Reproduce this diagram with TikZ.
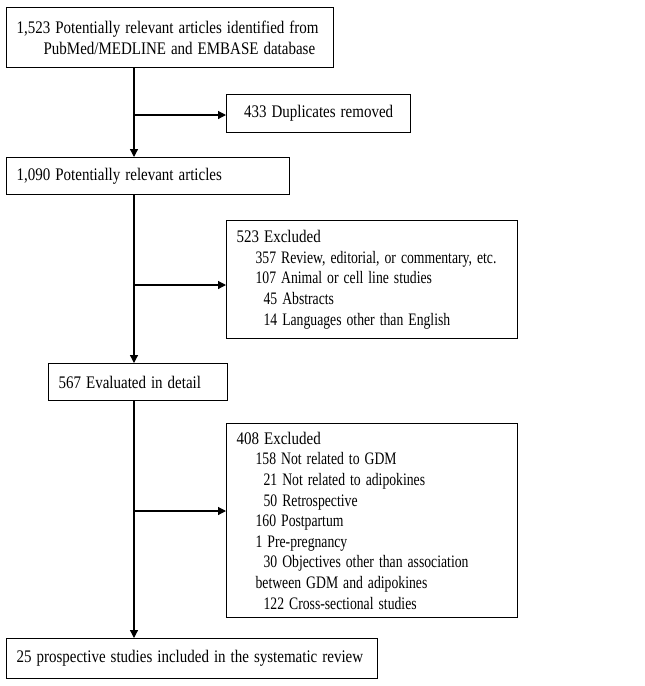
\documentclass[tikz,border=0pt]{standalone}
\usepackage{fontspec}
\usepackage{graphicx}
\setmainfont{Liberation Serif}
\usetikzlibrary{arrows.meta}
\newcommand{\ind}[2]{\mbox{\hspace*{#1pt}\scalebox{1}[1.18]{#2}}}
\newcommand{\subl}[2]{\mbox{\hspace*{#1pt}\scalebox{1}[1.28]{\fontsize{13.7}{20.6}\selectfont #2}}}
\begin{document}
\begin{tikzpicture}[x=1pt,y=-1pt,
  box/.style={draw, line width=1.2pt, anchor=north west, inner xsep=10pt, inner ysep=0pt, align=left,
    font=\fontsize{15}{20.6}\selectfont},
  arr/.style={line width=1.2pt, -{Triangle[length=8pt,width=8pt]}}]
\useasboundingbox[fill=white] (0,0) rectangle (645,686);
\node[box, minimum width=327pt, minimum height=60pt, text width=307pt] (b1) at (6,7)
  {\ind{0}{1,523 Potentially relevant articles identified from}\\\ind{27}{PubMed/MEDLINE and EMBASE database}};
\node[box, minimum width=184pt, minimum height=38pt, text width=164pt, align=center] (dup) at (226,94)
  {\ind{0}{433 Duplicates removed}};
\node[box, minimum width=283pt, minimum height=37pt, text width=263pt] (b2) at (6,157)
  {\ind{0}{1,090 Potentially relevant articles}};
\node[box, minimum width=291pt, minimum height=118pt, text width=271pt] (e1) at (226,220)
  {\ind{0}{523 Excluded}\\
   \subl{19}{357 Review, editorial, or commentary, etc.}\\
   \subl{19}{107 Animal or cell line studies}\\
   \subl{27}{45 Abstracts}\\
   \subl{27}{14 Languages other than English}};
\node[box, minimum width=179pt, minimum height=37pt, text width=159pt] (b3) at (48,363)
  {\ind{0}{567 Evaluated in detail}};
\node[box, minimum width=291pt, minimum height=194pt, text width=271pt] (e2) at (226,423)
  {\ind{0}{408 Excluded}\\
   \subl{19}{158 Not related to GDM}\\
   \subl{27}{21 Not related to adipokines}\\
   \subl{27}{50 Retrospective}\\
   \subl{19}{160 Postpartum}\\
   \subl{19}{1 Pre-pregnancy}\\
   \subl{27}{30 Objectives other than association}\\
   \subl{19}{between GDM and adipokines}\\
   \subl{27}{122 Cross-sectional studies}};
\node[box, minimum width=371pt, minimum height=40pt, text width=351pt] (b4) at (6,638)
  {\ind{0}{25 prospective studies included in the systematic review}};
\coordinate (spine) at (134,0);
\coordinate (j1) at (134,115);
\coordinate (j2) at (134,285);
\coordinate (j3) at (134,511);
\draw[arr] (b1.south -| spine) -- (b2.north -| spine);
\draw[arr] (b2.south -| spine) -- (b3.north -| spine);
\draw[arr] (b3.south -| spine) -- (b4.north -| spine);
\draw[arr] (j1) -- (j1 -| dup.west);
\draw[arr] (j2) -- (j2 -| e1.west);
\draw[arr] (j3) -- (j3 -| e2.west);
\end{tikzpicture}
\end{document}
